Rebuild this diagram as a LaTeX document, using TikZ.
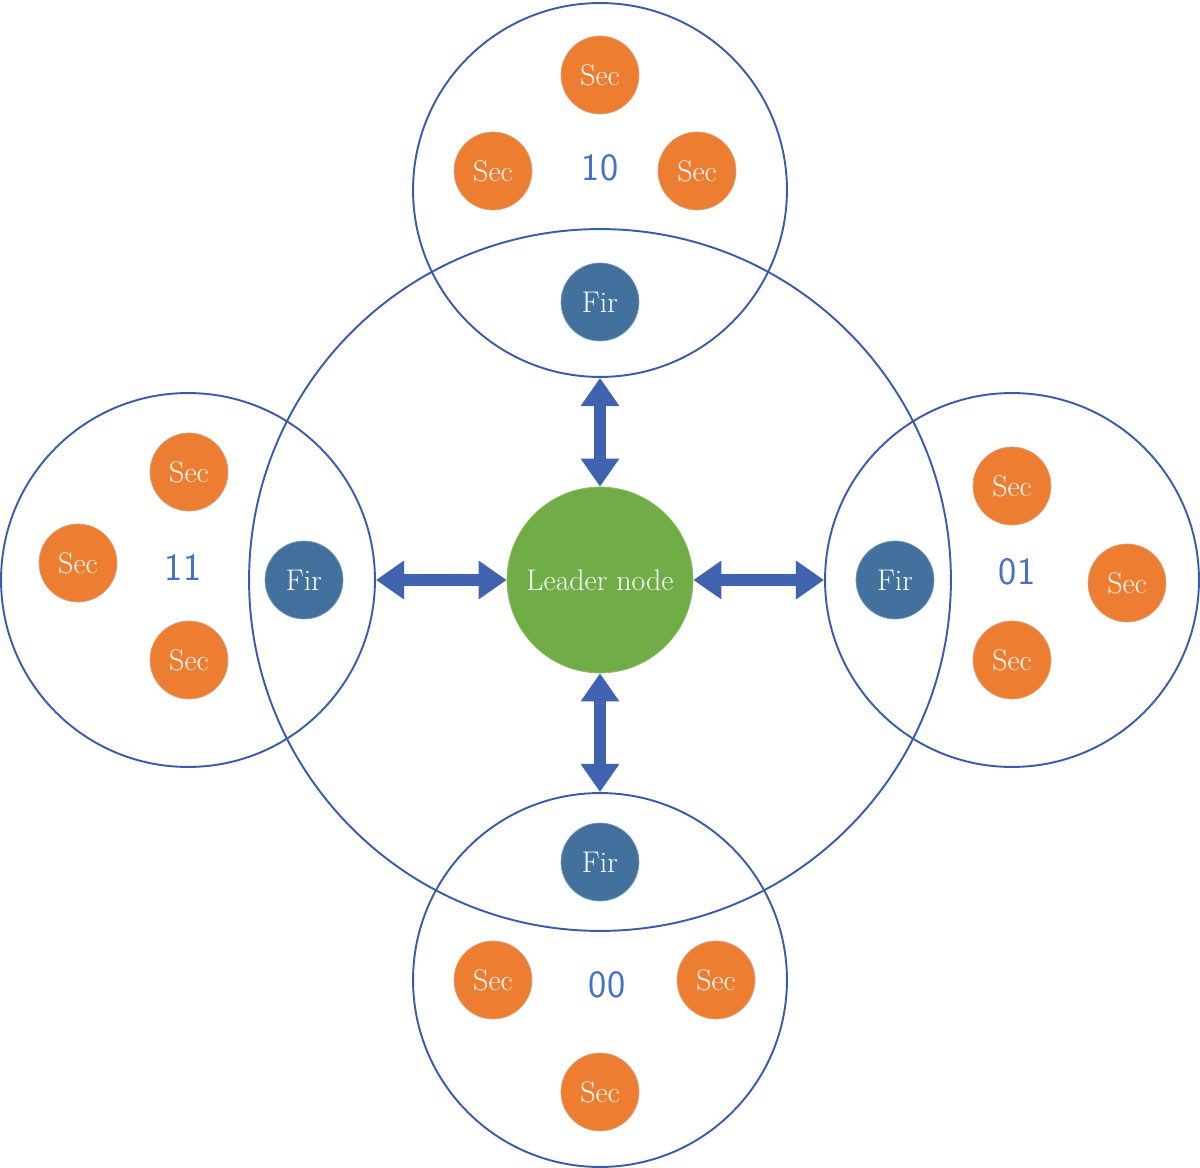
\documentclass[tikz,border=0pt]{standalone}
\usetikzlibrary{arrows.meta,positioning,shapes}
\definecolor{ringblue}{HTML}{3A5DA8}
\definecolor{secorange}{HTML}{ED7D31}
\definecolor{firblue}{HTML}{41719C}
\definecolor{leadgreen}{HTML}{70AD47}
\definecolor{numblue}{HTML}{4472C4}
\definecolor{arrowblue}{HTML}{3F63AE}

\begin{document}
\begin{tikzpicture}[x=0.02cm,y=-0.02cm,
    cluster/.style={circle,draw=ringblue,line width=1.1pt,minimum size=7.48cm},
    sec/.style={circle,fill=secorange,draw=secorange!80!black!60!white,text=white,
                minimum size=1.56cm,inner sep=0pt,font=\fontsize{17}{19}\selectfont},
    fir/.style={sec,fill=firblue,draw=firblue!70!white},
    num/.style={text=numblue,font=\fontsize{22}{24}\selectfont\sffamily},
    link/.style={{Triangle[width=21pt,length=16pt]}-{Triangle[width=21pt,length=16pt]},
                 line width=7pt,draw=arrowblue}]

        \useasboundingbox (0,0) rectangle (1200,1168);

        % big ring
        \node[circle,draw=ringblue,line width=1.1pt,minimum size=14.04cm] (ring) at (600,580) {};

        % clusters
        \node[cluster] (ctop)    at (600,190)  {};
        \node[cluster] (cbottom) at (600,980)  {};
        \node[cluster] (cleft)   at (188,580)  {};
        \node[cluster] (cright)  at (1012,580) {};

        \node[circle,fill=leadgreen,draw=leadgreen!80!white,text=white,minimum size=3.72cm,
              font=\fontsize{17}{19}\selectfont] (leader) at (600,580) {Leader node};

        % top
        \node[fir] (firtop) at (600,302) {Fir};
        \node[sec] (sectop1) at (600,75)  {Sec};
        \node[sec] (sectop2) at (493,171) {Sec};
        \node[sec] (sectop3) at (697,171) {Sec};
        \node[num] (ntop) at (600,168) {10};

        % left
        \node[fir] (firleft) at (304,580) {Fir};
        \node[sec] (secleft1) at (189,472) {Sec};
        \node[sec] (secleft2) at (78,563)  {Sec};
        \node[sec] (secleft3) at (189,660) {Sec};
        \node[num] (nleft) at (183,568) {11};

        % right
        \node[fir] (firright) at (895,580) {Fir};
        \node[sec] (secright1) at (1012,486) {Sec};
        \node[sec] (secright2) at (1127,583) {Sec};
        \node[sec] (secright3) at (1012,660) {Sec};
        \node[num] (nright) at (1017,572) {01};

        % bottom
        \node[fir] (firbottom) at (600,862) {Fir};
        \node[sec] (secbottom1) at (493,980)  {Sec};
        \node[sec] (secbottom2) at (716,980)  {Sec};
        \node[sec] (secbottom3) at (600,1092) {Sec};
        \node[num] (nbottom) at (607,985) {00};

        \path (ctop.south)    edge [link] (leader.north)
              (cbottom.north) edge [link] (leader.south)
              (cleft.east)    edge [link] (leader.west)
              (cright.west)   edge [link] (leader.east);
      \end{tikzpicture}
\end{document}
